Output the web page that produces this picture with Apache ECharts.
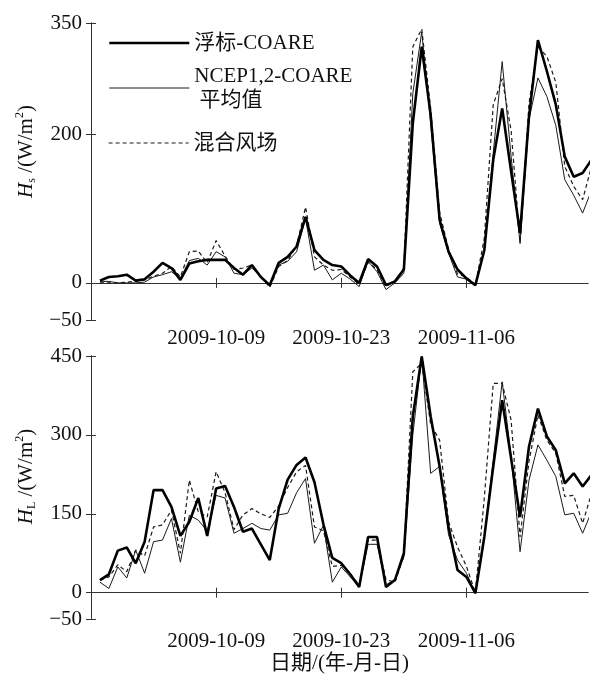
<!DOCTYPE html>
<html>
<head>
<meta charset="utf-8">
<style>
  html, body { margin: 0; padding: 0; background: #fff; }
  #main { width: 590px; height: 681px; }
</style>
<script src="https://cdn.jsdelivr.net/npm/echarts@6/dist/echarts.min.js"></script>
</head>
<body>
<div id="main"></div>
<script>
// 日期 (2009-09-26 .. 2009-11-20, 逐日)
const axisStart = '2009-09-25';
const dates = [
  '2009-09-26', '2009-09-27', '2009-09-28', '2009-09-29', '2009-09-30',
  '2009-10-01', '2009-10-02', '2009-10-03', '2009-10-04', '2009-10-05',
  '2009-10-06', '2009-10-07', '2009-10-08', '2009-10-09', '2009-10-10',
  '2009-10-11', '2009-10-12', '2009-10-13', '2009-10-14', '2009-10-15',
  '2009-10-16', '2009-10-17', '2009-10-18', '2009-10-19', '2009-10-20',
  '2009-10-21', '2009-10-22', '2009-10-23', '2009-10-24', '2009-10-25',
  '2009-10-26', '2009-10-27', '2009-10-28', '2009-10-29', '2009-10-30',
  '2009-10-31', '2009-11-01', '2009-11-02', '2009-11-03', '2009-11-04',
  '2009-11-05', '2009-11-06', '2009-11-07', '2009-11-08', '2009-11-09',
  '2009-11-10', '2009-11-11', '2009-11-12', '2009-11-13', '2009-11-14',
  '2009-11-15', '2009-11-16', '2009-11-17', '2009-11-18', '2009-11-19',
  '2009-11-20'
];
const tickDates = ['2009-10-09', '2009-10-23', '2009-11-06'];
const hsTicks = [-50, 0, 200, 350];
const hlTicks = [-50, 0, 150, 300, 450];

const names = ['浮标-COARE', 'NCEP1,2-COARE\n 平均值', '混合风场'];

// 感热 Hs
const hsBuoy = [
  3, 8, 9, 11, 3, 5, 15, 27, 20, 4,
  26, 29, 31, 31, 31, 20, 11, 24, 8, -3,
  27, 35, 49, 89, 44, 31, 24, 22, 10, 0,
  32, 22, -3, 2, 18, 215, 318, 226, 85, 42,
  18, 6, -3, 44, 166, 235, 150, 67, 224, 327,
  285, 240, 170, 143, 148, 166
];
const hsNcep = [
  2, 2, 0, 0, 0, 1, 8, 11, 15, 6,
  30, 33, 24, 42, 35, 13, 11, 20, 8, -5,
  24, 29, 42, 87, 17, 24, 4, 13, 5, -5,
  29, 15, -9, 0, 13, 255, 338, 215, 80, 40,
  8, 5, -3, 44, 175, 298, 170, 53, 220, 276,
  251, 212, 139, 118, 94, 125
];
const hsBlend = [
  0, 0, 0, 1, 2, 4, 9, 13, 22, 8,
  42, 43, 27, 57, 36, 18, 20, 24, 8, -6,
  22, 30, 50, 102, 35, 24, 17, 18, 8, -2,
  28, 18, -5, 2, 20, 318, 342, 235, 95, 45,
  12, 8, -3, 60, 240, 275, 205, 55, 242, 318,
  305, 270, 157, 130, 112, 157
];

// 潜热 HL
const hlBuoy = [
  24, 35, 80, 86, 56, 97, 195, 195, 163, 108,
  135, 180, 108, 198, 203, 163, 116, 122, 92, 62,
  160, 215, 243, 257, 210, 130, 66, 56, 35, 11,
  106, 106, 11, 24, 75, 335, 449, 335, 240, 125,
  43, 30, -1, 106, 240, 366, 255, 144, 278, 350,
  297, 271, 208, 227, 202, 224
];
const hlNcep = [
  20, 8, 49, 28, 81, 37, 97, 100, 141, 58,
  147, 138, 117, 185, 180, 113, 122, 132, 122, 119,
  148, 151, 190, 217, 94, 128, 20, 49, 30, 11,
  92, 92, 15, 25, 68, 300, 449, 227, 240, 110,
  62, 37, -1, 106, 252, 401, 259, 78, 214, 281,
  252, 221, 148, 151, 113, 154
];
const hlBlend = [
  24, 30, 53, 40, 81, 70, 125, 129, 157, 75,
  214, 154, 144, 230, 190, 120, 148, 160, 150, 143,
  165, 200, 230, 242, 125, 118, 50, 52, 35, 15,
  100, 100, 25, 20, 70, 420, 436, 320, 290, 135,
  87, 50, 0, 180, 398, 398, 328, 106, 250, 338,
  290, 265, 183, 185, 132, 189
];

const DAY = 86400000;
const t0 = Date.parse(axisStart);
function dayOf(s) { return (Date.parse(s) - t0) / DAY; }
function dateLabel(v) {
  const d = new Date(t0 + Math.round(v) * DAY);
  const mm = String(d.getUTCMonth() + 1).padStart(2, '0');
  const dd = String(d.getUTCDate()).padStart(2, '0');
  return d.getUTCFullYear() + '-' + mm + '-' + dd;
}
function pairs(vals) { return dates.map((s, i) => [dayOf(s), vals[i]]); }

const xTicks = tickDates.map(dayOf);
const xMax = dayOf('2009-11-20') - 0.4; // 右边界略早于最后一天

const serif = "'Liberation Serif', 'Noto Sans CJK SC', serif";
const axisColor = '#333';
const textColor = '#111';

function xAxes(grid, labelMargin, withName) {
  const base = {
    gridIndex: grid, type: 'value', min: 0, max: xMax,
    axisLine: { show: true, lineStyle: { color: axisColor, width: 1 } },
    axisTick: { show: true, inside: true, length: 5, customValues: xTicks, lineStyle: { color: axisColor } },
    splitLine: { show: false }
  };
  const bottom = Object.assign({}, base, {
    position: 'bottom',
    axisLabel: {
      customValues: xTicks, formatter: dateLabel, margin: labelMargin,
      fontFamily: serif, fontSize: 21, color: textColor
    }
  });
  if (withName) {
    bottom.name = '日期/(年-月-日)';
    bottom.nameLocation = 'middle';
    bottom.nameGap = 34;
    bottom.nameTextStyle = { fontFamily: serif, fontSize: 21, color: textColor };
  }
  const top = Object.assign({}, base, { position: 'top', axisLabel: { show: false } });
  return [bottom, top];
}

function yAxes(grid, min, max, ticks, name, shift) {
  const base = {
    gridIndex: grid, type: 'value', min: min, max: max,
    axisLine: { show: true, lineStyle: { color: axisColor, width: 1 } },
    axisTick: { show: true, inside: true, length: 5, customValues: ticks, lineStyle: { color: axisColor } },
    splitLine: { show: false }
  };
  const left = Object.assign({}, base, {
    position: 'left',
    axisLabel: {
      customValues: ticks, margin: 9,
      formatter: v => (v < 0 ? '\u2212' + Math.abs(v) : String(v)),
      fontFamily: serif, fontSize: 21, color: textColor
    },
    name: name,
    nameLocation: 'middle',
    nameGap: 52,
    nameRotate: 90,
    nameTextStyle: {
      fontFamily: serif, fontSize: 21, color: textColor,
      padding: [0, 0, 0, shift],
      rich: {
        i: { fontFamily: serif, fontStyle: 'italic', fontSize: 21, color: textColor, lineHeight: 24 },
        s: { fontFamily: serif, fontSize: 12, color: textColor, verticalAlign: 'bottom', lineHeight: 24 },
        n: { fontFamily: serif, fontSize: 21, color: textColor, lineHeight: 24 },
        p: { fontFamily: serif, fontSize: 12, color: textColor, verticalAlign: 'top', lineHeight: 24 }
      }
    }
  });
  const right = Object.assign({}, base, { position: 'right', axisLabel: { show: false } });
  return [left, right];
}

const styles = [
  { width: 2.6, color: '#000', type: 'solid' },
  { width: 1, color: '#1a1a1a', type: 'solid' },
  { width: 1.2, color: '#1a1a1a', type: [4, 3] }
];

function lineSeries(nameIdx, vals, axisIdx) {
  return {
    name: names[nameIdx], type: 'line', xAxisIndex: axisIdx, yAxisIndex: axisIdx,
    data: pairs(vals), symbol: 'none', silent: true, animation: false,
    itemStyle: { color: 'rgba(0,0,0,0)' },
    lineStyle: styles[nameIdx], z: 3 - nameIdx
  };
}

function legendItem(i) {
  return { name: names[i], lineStyle: Object.assign({}, styles[i]) };
}

const legendText = { fontFamily: serif, fontSize: 21, color: textColor, lineHeight: 24 };
const legendBase = {
  orient: 'vertical', left: 103, itemWidth: 80, itemHeight: 14,
  selectedMode: false, textStyle: legendText,
  itemStyle: { opacity: 0, borderWidth: 0 }
};

const chart = echarts.init(document.getElementById('main'), null, { renderer: 'canvas' });
chart.setOption({
  animation: false,
  backgroundColor: '#fff',
  grid: [
    { left: 91, top: 23, width: 497, height: 297, show: false },
    { left: 91, top: 356, width: 497, height: 263, show: false }
  ],
  legend: [
    Object.assign({}, legendBase, { data: [legendItem(0), legendItem(1)], top: 26, itemGap: 9 }),
    Object.assign({}, legendBase, { data: [legendItem(2)], top: 126 })
  ],
  xAxis: [].concat(xAxes(0, 8, false), xAxes(1, 12, true)),
  yAxis: [].concat(
    yAxes(0, -50, 350, hsTicks, '{i|H}{s|s}{n| /(W/m}{p|2}{n|)}', 40),
    yAxes(1, -50, 450, hlTicks, '{i|H}{s|L}{n| /(W/m}{p|2}{n|)}', 22)
  ),
  series: [
    lineSeries(2, hsBlend, 0),
    lineSeries(1, hsNcep, 0),
    lineSeries(0, hsBuoy, 0),
    lineSeries(2, hlBlend, 2),
    lineSeries(1, hlNcep, 2),
    lineSeries(0, hlBuoy, 2)
  ]
});
</script>
</body>
</html>
